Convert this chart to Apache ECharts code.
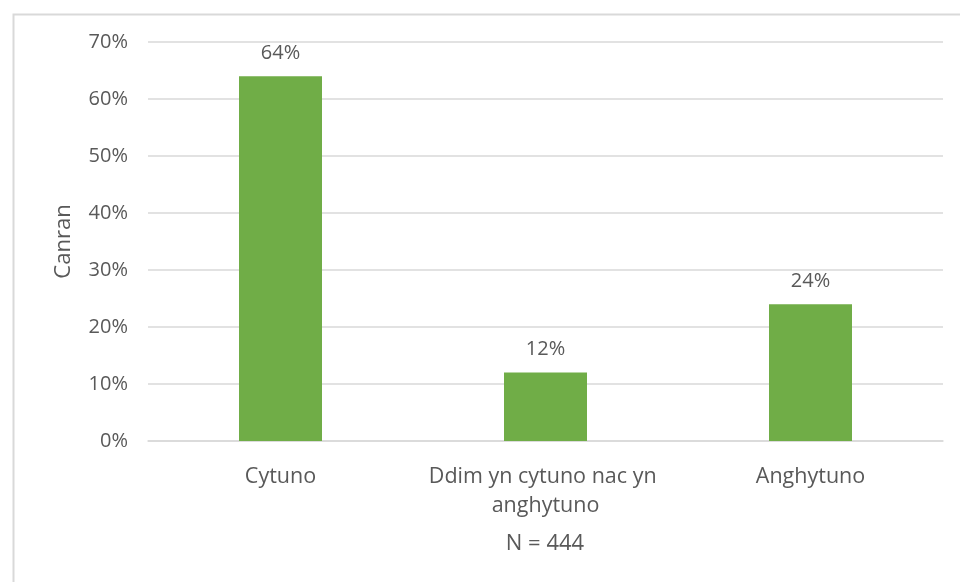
<!DOCTYPE html>
<html><head><meta charset="utf-8">
<script src="https://cdn.jsdelivr.net/npm/echarts@6/dist/echarts.min.js"></script>
<style>html,body{margin:0;padding:0;background:#fff}#c{width:960px;height:582px}</style>
</head><body><div id="c"></div>
<script>
const categories = ['Cytuno', 'Ddim yn cytuno nac yn anghytuno', 'Anghytuno'];
const values = [64, 12, 24];
const yTicks = [0, 10, 20, 30, 40, 50, 60, 70];
const font = '"Open Sans", "Liberation Sans", sans-serif';
const chart = echarts.init(document.getElementById('c'));
chart.setOption({
  animation: false,
  backgroundColor: '#fff',
  graphic: [{
    type: 'rect', left: 11, top: 12, silent: true,
    shape: {width: 1000, height: 1000},
    style: {fill: 'none', stroke: '#d9d9d9', lineWidth: 2}
  }, {
    type: 'text', silent: true,
    style: {text: 'N = 444', font: '22px ' + font, fill: '#595959', x: 545, y: 544,
      textAlign: 'center', textVerticalAlign: 'middle'}
  }],
  grid: {left: 148, right: 17, top: 42, bottom: 141},
  xAxis: {
    type: 'category', data: categories,
    axisLine: {lineStyle: {color: '#d9d9d9', width: 1.5}},
    axisTick: {show: false},
    axisLabel: {color: '#595959', fontSize: 21.5, fontFamily: font, margin: 21, lineHeight: 29,
      width: 255, overflow: 'break', interval: 0}
  },
  yAxis: {
    type: 'value', min: yTicks[0], max: yTicks[yTicks.length - 1], interval: 10,
    name: 'Canran', nameLocation: 'middle', nameGap: 73, nameRotate: 90,
    nameTextStyle: {color: '#595959', fontSize: 22, fontFamily: font},
    axisLine: {show: false}, axisTick: {show: false},
    axisLabel: {color: '#595959', fontSize: 20, fontFamily: font, margin: 20, formatter: v => v + '%'},
    splitLine: {lineStyle: {color: '#d9d9d9', width: 1.5}}
  },
  series: [{
    type: 'bar', data: values, barWidth: 83,
    itemStyle: {color: '#70ad47'},
    label: {show: true, position: 'top', distance: 13, color: '#595959', fontSize: 20, fontFamily: font,
      formatter: p => p.value + '%'}
  }]
});
</script></body></html>
